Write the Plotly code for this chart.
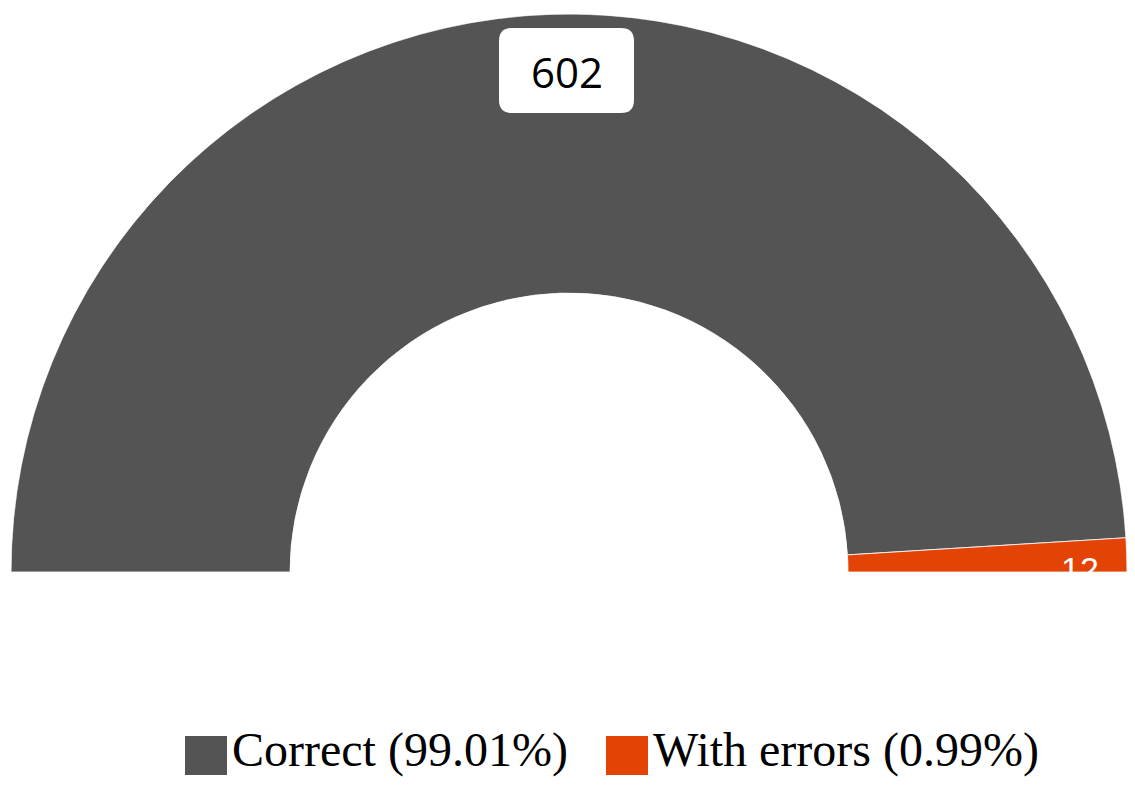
import plotly.graph_objects as go

# data
categories = ["Correct", "With errors"]
counts = [602, 12]
legend_labels = ["Correct (99.01%)", "With errors (0.99%)"]
colors = ["#545454", "#E34405"]

# the page body keeps an 8px margin, so the figure is made smaller
# and all positions below are given in window pixels minus that offset
OFF = 8
W, H = 1135 - 2 * OFF, 790 - 2 * OFF
L, R, T, B = 3, 0, 6, 0
PW, PH = W - L - R, H - T - B


def px_x(x):
    return (x - OFF - L) / PW


def px_y(y):
    return (H - B - (y - OFF)) / PH


# half donut: the whole gauge covers 180 degrees
total = sum(counts)
spans = [c / total * 180 for c in counts]
starts = [sum(spans[:i]) for i in range(len(spans))]
centers = [s + w / 2 for s, w in zip(starts, spans)]

fig = go.Figure()
for name, c, th, w, col in zip(categories, counts, centers, spans, colors):
    fig.add_trace(go.Barpolar(
        r=[1], theta=[th], width=[w], name=name,
        marker=dict(color=col, line=dict(color="white", width=0.8)),
        hovertemplate=f"{name}: {c}<extra></extra>",
        showlegend=False,
    ))

bottom = 572
fig.update_layout(
    width=W, height=H,
    margin=dict(l=L, r=R, t=T, b=B),
    paper_bgcolor="white",
    polar=dict(
        domain=dict(x=[0, 1], y=[px_y(bottom), 1]),
        sector=[0, 180],
        hole=0.5,
        bgcolor="white",
        radialaxis=dict(visible=False, range=[0, 1]),
        angularaxis=dict(visible=False, rotation=180, direction="clockwise"),
    ),
)


def rounded_box(x0, y0, x1, y1, r):
    def p(x, y):
        return f"{px_x(x):.5f},{px_y(y):.5f}"
    return (f"M {p(x0 + r, y0)} L {p(x1 - r, y0)} Q {p(x1, y0)} {p(x1, y0 + r)} "
            f"L {p(x1, y1 - r)} Q {p(x1, y1)} {p(x1 - r, y1)} "
            f"L {p(x0 + r, y1)} Q {p(x0, y1)} {p(x0, y1 - r)} "
            f"L {p(x0, y0 + r)} Q {p(x0, y0)} {p(x0 + r, y0)} Z")


# value label for the big slice
fig.add_shape(type="path", xref="paper", yref="paper",
              path=rounded_box(499, 28, 634, 113, 13),
              fillcolor="white", line=dict(width=0), layer="above")
fig.add_annotation(x=px_x(566.5), y=px_y(71), xref="paper", yref="paper",
                   xanchor="center", yanchor="middle",
                   text=str(counts[0]), showarrow=False,
                   font=dict(family="Open Sans", size=42, color="black"))

# value label for the small slice (lower half falls on white and vanishes)
fig.add_annotation(x=px_x(1080), y=px_y(548), xref="paper", yref="paper",
                   xanchor="center", yanchor="top",
                   text=str(counts[1]), showarrow=False,
                   font=dict(family="Liberation Sans", size=34, color="white"))

# legend drawn by hand so the swatches match the large text
legend_pos = [(185, 231), (606, 652)]
for (sx, tx), lab, col in zip(legend_pos, legend_labels, colors):
    fig.add_shape(type="rect", xref="paper", yref="paper",
                  x0=px_x(sx), x1=px_x(sx + 42), y0=px_y(775), y1=px_y(736),
                  fillcolor=col, line=dict(width=0))
    fig.add_annotation(x=px_x(tx), y=px_y(750), xref="paper", yref="paper",
                       xanchor="left", yanchor="middle", text=lab, showarrow=False,
                       borderpad=0,
                       font=dict(family="Liberation Serif", size=48, color="black"))

fig.write_html("out.html")
